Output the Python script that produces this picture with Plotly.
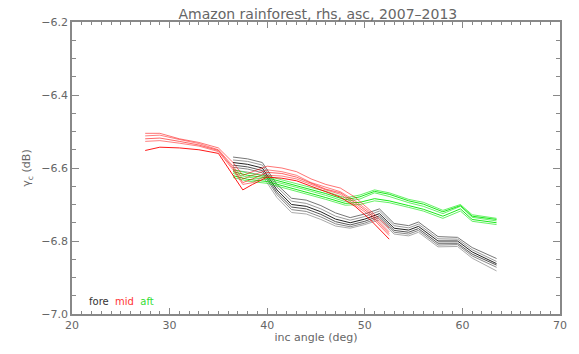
import plotly.graph_objects as go

title_text = "Amazon rainforest, rhs, asc, 2007\u20132013"

# mid beam (red)
mid_x = [27.5, 29, 31, 33, 35, 36.5, 37.5, 38.5, 40, 41.5, 43, 44.5, 46, 47.5, 49, 50.5, 52.5]
mid_1 = [-6.505, -6.505, -6.520, -6.530, -6.545, -6.585, -6.620, -6.610, -6.595, -6.600, -6.610, -6.630, -6.645, -6.655, -6.680, -6.715, -6.765]
mid_2 = [-6.512, -6.510, -6.522, -6.533, -6.550, -6.595, -6.630, -6.620, -6.605, -6.610, -6.620, -6.640, -6.652, -6.665, -6.690, -6.720, -6.775]
mid_3 = [-6.520, -6.518, -6.527, -6.537, -6.552, -6.600, -6.640, -6.630, -6.612, -6.615, -6.625, -6.642, -6.658, -6.668, -6.695, -6.725, -6.780]
mid_4 = [-6.527, -6.525, -6.532, -6.540, -6.555, -6.605, -6.645, -6.640, -6.620, -6.622, -6.630, -6.645, -6.660, -6.672, -6.700, -6.730, -6.785]
mid_5 = [-6.552, -6.543, -6.545, -6.550, -6.560, -6.620, -6.660, -6.645, -6.625, -6.628, -6.635, -6.650, -6.665, -6.680, -6.705, -6.740, -6.795]

# fore beam (black)
fore_x = [36.5, 38, 39.5, 41, 42.5, 44, 45.5, 47, 48.5, 50, 51.5, 53, 54.5, 55.5, 57.5, 59.5, 61, 63.5]
fore_1 = [-6.570, -6.575, -6.585, -6.645, -6.683, -6.688, -6.703, -6.723, -6.736, -6.726, -6.712, -6.752, -6.758, -6.748, -6.788, -6.790, -6.818, -6.848]
fore_2 = [-6.578, -6.582, -6.592, -6.652, -6.691, -6.697, -6.712, -6.732, -6.743, -6.733, -6.718, -6.758, -6.764, -6.754, -6.794, -6.795, -6.824, -6.856]
fore_3 = [-6.585, -6.590, -6.600, -6.660, -6.700, -6.705, -6.720, -6.740, -6.750, -6.740, -6.725, -6.765, -6.770, -6.760, -6.800, -6.800, -6.830, -6.862]
fore_4 = [-6.592, -6.597, -6.607, -6.667, -6.707, -6.712, -6.727, -6.747, -6.756, -6.746, -6.731, -6.771, -6.776, -6.766, -6.806, -6.806, -6.836, -6.866]
fore_5 = [-6.598, -6.603, -6.613, -6.673, -6.714, -6.719, -6.734, -6.753, -6.761, -6.751, -6.736, -6.776, -6.781, -6.771, -6.811, -6.810, -6.841, -6.872]
fore_6 = [-6.606, -6.611, -6.621, -6.681, -6.722, -6.726, -6.741, -6.759, -6.765, -6.755, -6.742, -6.781, -6.786, -6.776, -6.816, -6.815, -6.847, -6.882]

# aft beam (green)
aft_x = [36.5, 38, 40, 42, 44, 46, 48, 49.5, 51, 52.5, 54.5, 56, 58, 59.8, 61, 63.5]
aft_1 = [-6.604, -6.614, -6.622, -6.636, -6.651, -6.664, -6.682, -6.674, -6.660, -6.668, -6.686, -6.694, -6.716, -6.700, -6.728, -6.738]
aft_2 = [-6.610, -6.620, -6.627, -6.641, -6.656, -6.670, -6.687, -6.679, -6.664, -6.672, -6.690, -6.699, -6.720, -6.703, -6.732, -6.741]
aft_3 = [-6.615, -6.625, -6.632, -6.645, -6.660, -6.675, -6.692, -6.685, -6.668, -6.678, -6.695, -6.705, -6.725, -6.705, -6.735, -6.745]
aft_4 = [-6.621, -6.631, -6.637, -6.651, -6.666, -6.681, -6.697, -6.694, -6.684, -6.690, -6.703, -6.713, -6.732, -6.712, -6.741, -6.750]
aft_5 = [-6.626, -6.636, -6.642, -6.656, -6.671, -6.686, -6.702, -6.700, -6.690, -6.695, -6.708, -6.718, -6.738, -6.718, -6.746, -6.755]

x_ticks = [20, 30, 40, 50, 60, 70]
y_ticks = [-7.0, -6.8, -6.6, -6.4, -6.2]

fig = go.Figure()

fore_cols = ["#777777", "#999999", "#222222", "#555555", "#888888", "#aaaaaa"]
for ys, c in zip([fore_1, fore_2, fore_3, fore_4, fore_5, fore_6], fore_cols):
    fig.add_trace(go.Scatter(x=fore_x, y=ys, mode="lines",
                             line=dict(color=c, width=1), showlegend=False))

aft_cols = ["rgba(0,230,0,0.6)", "rgba(0,230,0,0.9)", "rgba(0,230,0,0.6)", "rgba(0,230,0,0.9)", "rgba(0,230,0,0.6)"]
for ys, c in zip([aft_1, aft_2, aft_3, aft_4, aft_5], aft_cols):
    fig.add_trace(go.Scatter(x=aft_x, y=ys, mode="lines",
                             line=dict(color=c, width=1), showlegend=False))

mid_cols = ["rgba(255,0,0,0.55)", "rgba(255,0,0,0.5)", "rgba(255,0,0,0.6)", "rgba(255,0,0,0.5)", "rgba(255,0,0,0.9)"]
for ys, c in zip([mid_1, mid_2, mid_3, mid_4, mid_5], mid_cols):
    fig.add_trace(go.Scatter(x=mid_x, y=ys, mode="lines",
                             line=dict(color=c, width=1), showlegend=False))

# empty trace to bring up the mirrored (top/right) axes with their minor ticks
fig.add_trace(go.Scatter(x=[], y=[], xaxis="x2", yaxis="y2", showlegend=False, hoverinfo="skip"))

axis_col = "#888888"
font_col = "#666666"

fig.update_layout(
    width=579, height=354,
    margin=dict(l=72, r=15, t=22, b=39),
    plot_bgcolor="white", paper_bgcolor="white",
    font=dict(family="DejaVu Sans", size=11, color=font_col),
    title=dict(text=title_text, x=0.549, xanchor="center", y=0.975, yanchor="top",
               font=dict(size=14, color=font_col)),
    annotations=[dict(
        x=21.5, y=-6.965, xref="x", yref="y", xanchor="left", yanchor="middle",
        showarrow=False, font=dict(size=10),
        text="<span style='color:#333333'>fore</span>  <span style='color:#ff3333'>mid</span>  <span style='color:#33dd33'>aft</span>")],
    xaxis2=dict(overlaying="x", side="top", range=[20, 70], tickvals=x_ticks,
                showticklabels=False, showgrid=False, zeroline=False, showline=False,
                ticks="inside", ticklen=6, tickcolor=axis_col, tickwidth=1,
                minor=dict(dtick=1, ticks="inside", ticklen=3, tickcolor=axis_col, showgrid=False)),
    yaxis2=dict(overlaying="y", side="right", range=[-7.0, -6.2], tickvals=y_ticks,
                showticklabels=False, showgrid=False, zeroline=False, showline=False,
                ticks="inside", ticklen=7, tickcolor=axis_col, tickwidth=1,
                minor=dict(dtick=0.05, ticks="inside", ticklen=4, tickcolor=axis_col, showgrid=False)),
)

fig.layout.xaxis.update(
    range=[20, 70], tickvals=x_ticks, ticktext=[str(v) for v in x_ticks],
    showgrid=False, zeroline=False, showline=True, linecolor=axis_col, linewidth=1.5,
    mirror=True, ticks="inside", ticklen=6, tickcolor=axis_col, tickwidth=1,
    minor=dict(dtick=1, ticks="inside", ticklen=3, tickcolor=axis_col, showgrid=False),
    title=dict(text="inc angle (deg)", standoff=2, font=dict(size=11, color=font_col)),
)
fig.layout.yaxis.update(
    range=[-7.0, -6.2], tickvals=y_ticks, tickformat=".1f",
    showgrid=False, zeroline=False, showline=True, linecolor=axis_col, linewidth=1.5,
    mirror=True, ticks="inside", ticklen=7, tickcolor=axis_col, tickwidth=1,
    minor=dict(dtick=0.05, ticks="inside", ticklen=4, tickcolor=axis_col, showgrid=False),
    title=dict(text="\u03b3<sub>c</sub> (dB)", standoff=8, font=dict(size=11, color=font_col)),
)

fig.write_html("out.html")
